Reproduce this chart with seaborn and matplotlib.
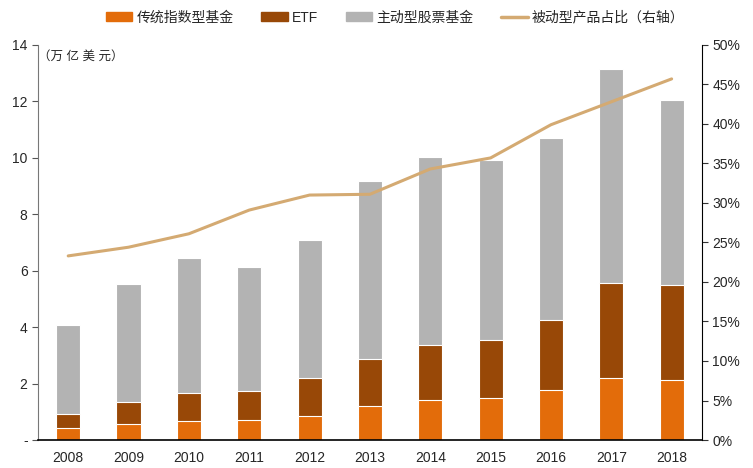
import numpy as np
import pandas as pd
import matplotlib
matplotlib.use('Agg')
import matplotlib.pyplot as plt
import matplotlib.ticker as mticker
from matplotlib.patches import Patch
from matplotlib.lines import Line2D
import seaborn as sns

years = ['2008', '2009', '2010', '2011', '2012', '2013', '2014', '2015', '2016', '2017', '2018']
index_funds = [0.41, 0.57, 0.69, 0.72, 0.86, 1.21, 1.42, 1.49, 1.77, 2.20, 2.13]
etf = [0.51, 0.77, 0.98, 1.03, 1.33, 1.66, 1.95, 2.06, 2.49, 3.38, 3.37]
active_funds = [3.17, 4.19, 4.78, 4.37, 4.90, 6.31, 6.65, 6.38, 6.45, 7.58, 6.56]
passive_share = [23.3, 24.4, 26.1, 29.1, 31.0, 31.1, 34.3, 35.7, 39.9, 42.8, 45.7]

labels = ['传统指数型基金', 'ETF', '主动型股票基金', '被动型产品占比（右轴）']
colors = ['#E36C0A', '#984807', '#B3B3B3', '#D4AA72']

sns.set_style('white')
plt.rcParams['font.family'] = ['Liberation Sans', 'Noto Sans CJK SC', 'DejaVu Sans']

df = pd.DataFrame({'year': years, 'index': index_funds, 'etf': etf, 'active': active_funds, 'share': passive_share})
df['lvl2'] = df['index'] + df['etf']
df['lvl3'] = df['lvl2'] + df['active']

fig = plt.figure(figsize=(7.53, 4.68), dpi=100)
ax = fig.add_axes([0.0505, 0.0598, 0.8815, 0.8442])

# stacked bars drawn back to front
for col, c in [('lvl3', colors[2]), ('lvl2', colors[1]), ('index', colors[0])]:
    sns.barplot(data=df, x='year', y=col, color=c, width=0.4, saturation=1,
                edgecolor='white', linewidth=0.8, ax=ax)

ax.set_xlim(-0.5, len(years) - 0.5)
ax.set_ylim(0, 14)
ax.set_yticks(np.arange(0, 15, 2))
ax.yaxis.set_major_formatter(mticker.FuncFormatter(lambda v, p: '-' if v == 0 else f'{v:g}'))
ax.set_xlabel('')
ax.set_ylabel('')
ax.tick_params(axis='x', which='major', length=0, labelsize=10, pad=8)
ax.set_xticks(np.arange(-0.5, len(years), 1), minor=True)
ax.tick_params(axis='x', which='minor', length=4, direction='out', color='#333333')
ax.tick_params(axis='y', length=4, direction='out', labelsize=10, color='#555555', left=True)
for s in ['top', 'right']:
    ax.spines[s].set_visible(False)
ax.spines['left'].set_color('#777777')
ax.spines['bottom'].set_color('black')
ax.spines['bottom'].set_linewidth(1.2)

ax2 = ax.twinx()
sns.lineplot(x=np.arange(len(years)), y=df['share'], color=colors[3], linewidth=2.2, ax=ax2)
ax2.set_ylim(0, 50)
ax2.set_yticks(np.arange(0, 51, 5))
ax2.yaxis.set_major_formatter(mticker.FuncFormatter(lambda v, p: f'{v:.0f}%'))
ax2.set_ylabel('')
ax2.tick_params(axis='y', length=4, direction='out', labelsize=10, right=True, color='#333333')
for s in ['top', 'left', 'bottom']:
    ax2.spines[s].set_visible(False)
ax2.spines['right'].set_color('black')

ax.text(0.0, 0.985, '（万 亿 美 元）', transform=ax.transAxes, ha='left', va='top', fontsize=9)

handles = [Patch(color=colors[0]), Patch(color=colors[1]), Patch(color=colors[2]),
           Line2D([0], [0], color=colors[3], linewidth=2.5)]
fig.legend(handles, labels, loc='center', bbox_to_anchor=(0.525, 0.962), ncol=4, frameon=False,
           fontsize=10, handlelength=1.9, handleheight=0.6, columnspacing=2.0, handletextpad=0.3)

fig.savefig('out.png', dpi=100)
